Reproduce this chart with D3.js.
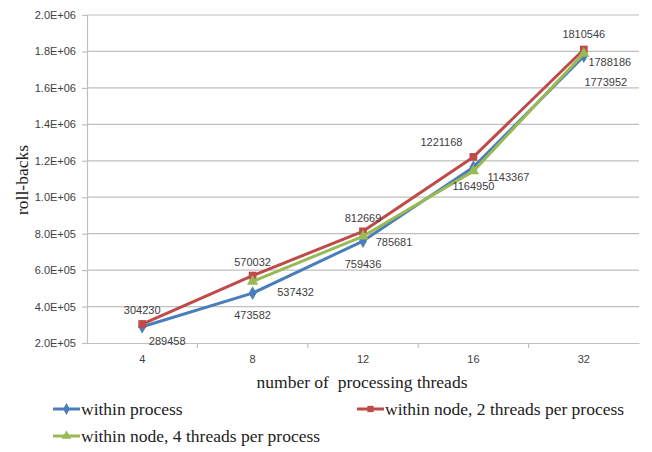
<!DOCTYPE html>
<html>
<head>
<meta charset="utf-8">
<script src="https://cdn.jsdelivr.net/npm/d3@7"></script>
<style>
  body { margin: 0; background: #fff; }
  svg { display: block; }
  .tick text { font-family: "Liberation Sans", Arial, sans-serif; font-size: 11px; fill: #404040; }
</style>
</head>
<body>
<svg width="652" height="452"></svg>
<script>
const categories = ['4', '8', '12', '16', '32'];
const withinProcess = [289458, 473582, 759436, 1164950, 1773952];
const twoPerProcess = [304230, 570032, 812669, 1221168, 1810546];
const fourPerProcess = [null, 537432, 785681, 1143367, 1788186];
const yTicks = [2e5, 4e5, 6e5, 8e5, 1e6, 1.2e6, 1.4e6, 1.6e6, 1.8e6, 2e6];

const series = [
  { name: 'within process', values: withinProcess, color: '#4a7ebb', shape: d3.symbolDiamond, labelPos: 'below' },
  { name: 'within node, 2 threads per process', values: twoPerProcess, color: '#be4b48', shape: d3.symbolSquare, labelPos: 'above' },
  { name: 'within node, 4 threads per process', values: fourPerProcess, color: '#98b954', shape: d3.symbolTriangle, labelPos: 'right' }
];

// label nudges per point, roughly where Excel put them
const labelOffsets = {
  below: [[25, 14], [0, 22], [0, 23], [0, 19], [22, 26]],
  above: [[0, -14], [0, -13], [0, -13], [-32, -15], [0, -15]],
  right: [[0, 0], [43, 11], [31, 6], [35, 6], [26, 9]]
};

const svg = d3.select('svg');
const plotL = 87, plotR = 639, plotT = 15, plotB = 343;

const x = d3.scaleBand().domain(categories).range([plotL, plotR]);
const y = d3.scaleLinear().domain([2e5, 2e6]).range([plotB, plotT]);

const fmt = v => {
  const [m, e] = d3.format('.1e')(v).split('e');
  const sign = e[0];
  const digits = e.slice(1).padStart(2, '0');
  return `${m}E${sign}${digits}`;
};

// gridlines
svg.append('g')
  .selectAll('line')
  .data(yTicks.slice(1))
  .join('line')
    .attr('x1', plotL).attr('x2', plotR)
    .attr('y1', d => y(d)).attr('y2', d => y(d))
    .attr('stroke', '#bfbfbf')
    .attr('stroke-width', 1.2);

const yAxis = svg.append('g')
  .attr('transform', `translate(${plotL},0)`)
  .call(d3.axisLeft(y).tickValues(yTicks).tickFormat(fmt).tickSize(5).tickPadding(6));
yAxis.selectAll('line, path').attr('stroke', '#bfbfbf').attr('stroke-width', 1.2);

const xAxis = svg.append('g')
  .attr('transform', `translate(0,${plotB})`)
  .call(d3.axisBottom(x).tickSize(0).tickPadding(10));
xAxis.select('path').attr('stroke', '#bfbfbf').attr('stroke-width', 1.2);
xAxis.selectAll('.tick text').attr('dy', '0.9em');

// category separators
svg.append('g')
  .selectAll('line')
  .data(categories.slice(1))
  .join('line')
    .attr('x1', d => x(d)).attr('x2', d => x(d))
    .attr('y1', plotB).attr('y2', plotB + 5)
    .attr('stroke', '#bfbfbf')
    .attr('stroke-width', 1.2);

const cx = c => x(c) + x.bandwidth() / 2;

const line = d3.line()
  .defined(d => d.v != null)
  .x(d => cx(d.c))
  .y(d => y(d.v));

series.forEach(s => {
  const pts = categories.map((c, i) => ({ c, v: s.values[i], i }));
  const g = svg.append('g');
  g.append('path')
    .datum(pts)
    .attr('d', line)
    .attr('fill', 'none')
    .attr('stroke', s.color)
    .attr('stroke-width', 3)
    .attr('stroke-linejoin', 'round');
  g.selectAll('path.mark')
    .data(pts.filter(d => d.v != null))
    .join('path')
      .attr('class', 'mark')
      .attr('transform', d => `translate(${cx(d.c)},${y(d.v)})`)
      .attr('d', d3.symbol(s.shape, s.shape === d3.symbolSquare ? 60 : 55))
      .attr('fill', s.color);
});

// data labels on top
series.forEach(s => {
  const pts = categories.map((c, i) => ({ c, v: s.values[i], i })).filter(d => d.v != null);
  svg.append('g')
    .selectAll('text')
    .data(pts)
    .join('text')
      .attr('x', d => cx(d.c) + labelOffsets[s.labelPos][d.i][0])
      .attr('y', d => y(d.v) + labelOffsets[s.labelPos][d.i][1])
      .attr('text-anchor', 'middle')
      .attr('dy', '0.35em')
      .attr('font-family', '"Liberation Sans", Arial, sans-serif')
      .attr('font-size', 11)
      .attr('fill', '#404040')
      .text(d => d.v);
});

// axis titles
svg.append('text')
  .attr('x', 362)
  .attr('y', 388)
  .attr('text-anchor', 'middle')
  .attr('font-family', '"Liberation Serif", "Times New Roman", serif')
  .attr('font-size', 17.5)
  .attr('fill', '#222')
  .style('white-space', 'pre')
  .text('number of  processing threads');

svg.append('text')
  .attr('transform', 'translate(28,180) rotate(-90)')
  .attr('text-anchor', 'middle')
  .attr('font-family', '"Liberation Serif", "Times New Roman", serif')
  .attr('font-size', 17.5)
  .attr('fill', '#222')
  .text('roll-backs');

// legend
const legendPos = [[53, 409], [357, 409], [53, 436]];
series.forEach((s, i) => {
  const [lx, ly] = legendPos[i];
  const lg = svg.append('g').attr('transform', `translate(${lx},${ly})`);
  lg.append('line')
    .attr('x1', 0).attr('x2', 27)
    .attr('stroke', s.color).attr('stroke-width', 3);
  lg.append('path')
    .attr('transform', 'translate(13.5,0)')
    .attr('d', d3.symbol(s.shape, 40))
    .attr('fill', s.color);
  lg.append('text')
    .attr('x', 28)
    .attr('dy', '0.33em')
    .attr('font-family', '"Liberation Serif", "Times New Roman", serif')
    .attr('font-size', 17.5)
    .attr('fill', '#222')
    .text(s.name);
});
</script>
</body>
</html>
